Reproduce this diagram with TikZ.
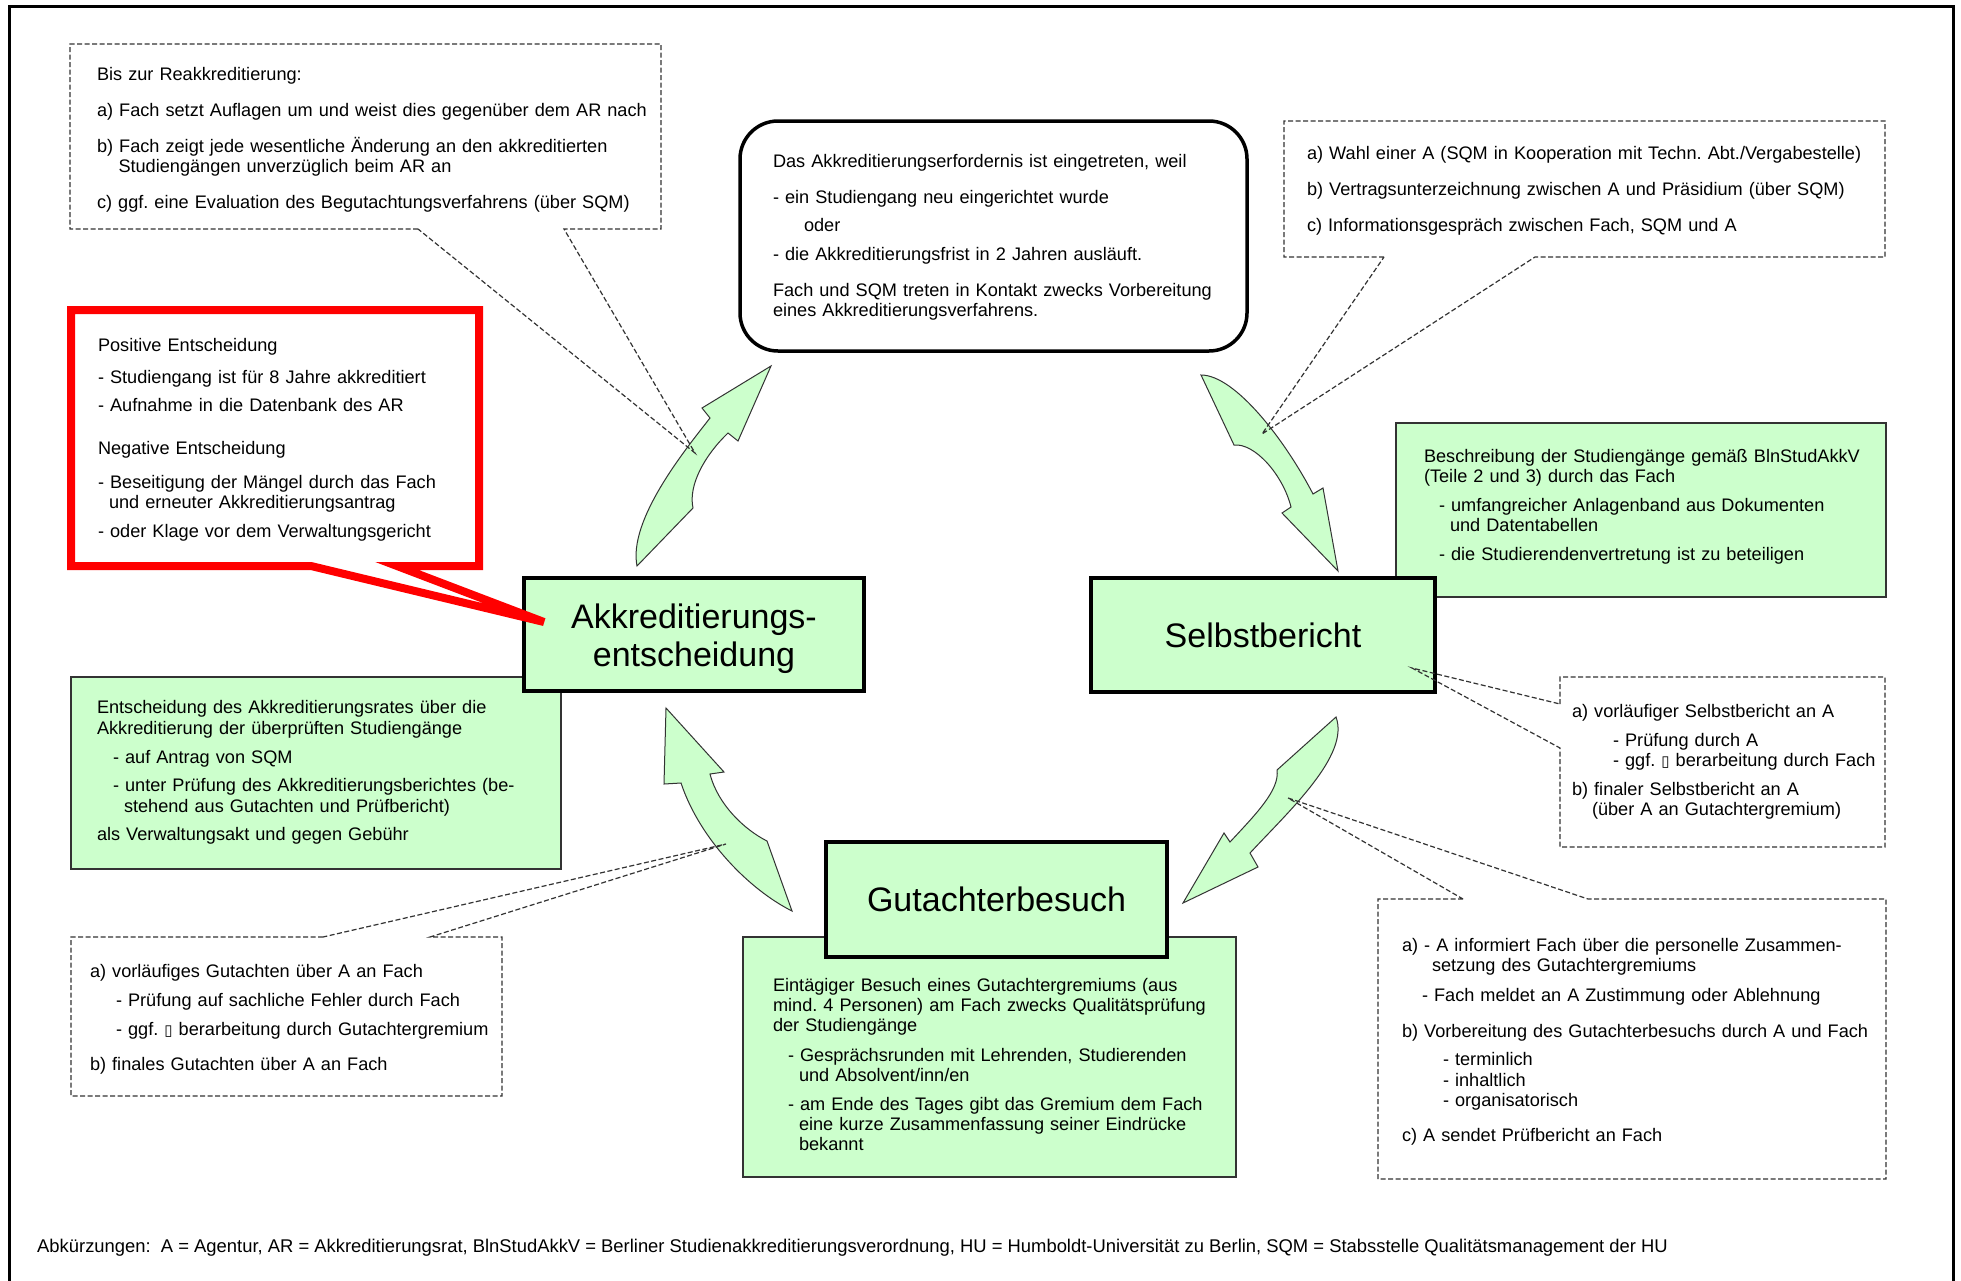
\documentclass[tikz,border=0pt]{standalone}
\usepackage{fontspec}
\setmainfont{Liberation Sans}
\newfontfamily\symfont{DejaVu Sans}
\newcommand{\tofu}{{\symfont\fontsize{15}{15}\selectfont ▯}}
\newcommand{\txtfont}{\fontsize{18.15}{20}\selectfont\frenchspacing\lineskiplimit -30pt\relax}
\newcommand{\footfont}{\fontsize{18.4}{20}\selectfont\frenchspacing}
\definecolor{lgreen}{HTML}{CCFFCC}
\definecolor{edge}{HTML}{333333}
\tikzset{
  txt/.style={anchor=base west, inner sep=0pt, outer sep=0pt, text width=#1, align=left,
    font=\txtfont},
  big/.style={anchor=base, inner sep=0pt, outer sep=0pt, align=center, text width=#1,
    font=\fontsize{34}{38}\selectfont},
  bigbox/.style={draw=black, line width=4.5pt, fill=lgreen, inner sep=0pt},
  greenbox/.style={draw=edge, line width=1.3pt, fill=lgreen, inner sep=0pt},
  callout/.style={draw=edge, line width=1.2pt, dash pattern=on 5pt off 2.5pt},
  blockarrow/.style={draw=edge, line width=1pt, fill=lgreen, line join=miter},
}
\begin{document}
\begin{tikzpicture}[x=1pt,y=-1pt]
\useasboundingbox (0,0) rectangle (1961,1280);
\fill[white] (0,0) rectangle (1961,1280);
\draw[line width=3pt] (9,1282) -- (9,6) -- (1953,6) -- (1953,1282);

% green description boxes
\node[greenbox, minimum width=490pt, minimum height=192pt] (gA) at (316,773) {};
\node[greenbox, minimum width=490pt, minimum height=174pt] (gB) at (1641,510) {};
\node[greenbox, minimum width=493pt, minimum height=240pt] (gC) at (989.5,1057) {};

% main step boxes
\node[bigbox, minimum width=340pt, minimum height=113pt] (akk) at (694,634.5) {};
\node[bigbox, minimum width=344pt, minimum height=114pt] (selbst) at (1263,635) {};
\node[bigbox, minimum width=341pt, minimum height=115pt] (gut) at (996.5,899.5) {};

% start box
\node[draw=black, line width=3.5pt, rounded corners=38pt, fill=white, minimum width=507pt,
      minimum height=230pt, inner sep=0pt] (start) at (993.5,236) {};

% curved block arrows
\draw[blockarrow] (771,366) -- (702,408) -- (710,418)
   .. controls (685,450) and (628,520) .. (637,566) -- (693,508)
   .. controls (688,485) and (705,455) .. (728,433) -- (738,441) -- cycle;
\draw[blockarrow] (1201,375) -- (1234,445)
   .. controls (1255,443) and (1283,475) .. (1291,507) -- (1282,513) -- (1338,571)
   -- (1323,488) -- (1313,494) .. controls (1285,440) and (1235,375) .. (1201,375) -- cycle;
\draw[blockarrow] (1336,717) -- (1277,770)
   .. controls (1280,790) and (1255,815) .. (1230,842) -- (1224,833) -- (1183,903)
   -- (1258,867) -- (1250,853) .. controls (1290,810) and (1350,755) .. (1336,717) -- cycle;
\draw[blockarrow] (666,708) -- (724,772) -- (710,774)
   .. controls (718,805) and (745,830) .. (767,841) -- (792,911)
   .. controls (750,890) and (700,840) .. (681,783) -- (664,784) -- cycle;

% dashed callouts
\draw[callout] (418,229) -- (70,229) -- (70,44) -- (661,44) -- (661,229) -- (564,229) -- (695,453) -- cycle;
\draw[callout] (1384,257) -- (1284,257) -- (1284,121) -- (1885,121) -- (1885,257) -- (1535,257) -- (1262,434) -- cycle;
\draw[callout] (1560,704) -- (1560,677) -- (1885,677) -- (1885,847) -- (1560,847) -- (1560,748) -- (1412,668) -- cycle;
\draw[callout] (1463,899) -- (1378,899) -- (1378,1179) -- (1886,1179) -- (1886,899) -- (1588,899) -- (1288,798) -- cycle;
\draw[callout] (323,937) -- (71,937) -- (71,1096) -- (502,1096) -- (502,937) -- (430,937) -- (726,844) -- cycle;

% red callout
\draw[red, line width=8pt] (311,566) -- (71,566) -- (71,310) -- (479,310) -- (479,566) -- (397,566) -- (544,622) -- cycle;

% texts
\node[txt=700pt] (t1) at (97,80) {Bis zur Reakkreditierung:\\[16pt]
a) Fach setzt Auflagen um und weist dies gegenüber dem AR nach\\[16pt]
b) Fach zeigt jede wesentliche Änderung an den akkreditierten\\
\hspace*{21.5pt}Studiengängen unverzüglich beim AR an\\[16pt]
c) ggf. eine Evaluation des Begutachtungsverfahrens (über SQM)};

\node[txt=600pt] (t2) at (773,167) {Das Akkreditierungserfordernis ist eingetreten, weil\\[16.5pt]
- ein Studiengang neu eingerichtet wurde\\[7.5pt]
\hspace*{31pt}oder\\[9pt]
- die Akkreditierungsfrist in 2 Jahren ausläuft.\\[16pt]
Fach und SQM treten in Kontakt zwecks Vorbereitung\\
eines Akkreditierungsverfahrens.};

\node[txt=700pt] (t3) at (1307,159) {a) Wahl einer A (SQM in Kooperation mit Techn. Abt./Vergabestelle)\\[16pt]
b) Vertragsunterzeichnung zwischen A und Präsidium (über SQM)\\[16pt]
c) Informationsgespräch zwischen Fach, SQM und A};

\node[txt=600pt] (t4) at (1424,462) {Beschreibung der Studiengänge gemäß BlnStudAkkV\\
(Teile 2 und 3) durch das Fach\\[9pt]
\hspace*{15pt}- umfangreicher Anlagenband aus Dokumenten\\
\hspace*{26pt}und Datentabellen\\[9pt]
\hspace*{15pt}- die Studierendenvertretung ist zu beteiligen};

\node[txt=500pt] (t5) at (98,351) {Positive Entscheidung\\[12.5pt]
- Studiengang ist für 8 Jahre akkreditiert\\[8pt]
- Aufnahme in die Datenbank des AR\\[23pt]
Negative Entscheidung\\[13.5pt]
- Beseitigung der Mängel durch das Fach\\
\hspace*{11pt}und erneuter Akkreditierungsantrag\\[9pt]
- oder Klage vor dem Verwaltungsgericht};

\node[txt=600pt] (t6) at (97,713) {Entscheidung des Akkreditierungsrates über die\\[1pt]
Akkreditierung der überprüften Studiengänge\\[9pt]
\hspace*{16pt}- auf Antrag von SQM\\[8.5pt]
\hspace*{16pt}- unter Prüfung des Akkreditierungsberichtes (be-\\[1pt]
\hspace*{27pt}stehend aus Gutachten und Prüfbericht)\\[8pt]
als Verwaltungsakt und gegen Gebühr};

\node[txt=600pt] (t7) at (773,991) {Eintägiger Besuch eines Gutachtergremiums (aus\\
mind. 4 Personen) am Fach zwecks Qualitätsprüfung\\
der Studiengänge\\[10pt]
\hspace*{15pt}- Gesprächsrunden mit Lehrenden, Studierenden\\
\hspace*{26pt}und Absolvent/inn/en\\[9pt]
\hspace*{15pt}- am Ende des Tages gibt das Gremium dem Fach\\
\hspace*{26pt}eine kurze Zusammenfassung seiner Eindrücke\\
\hspace*{26pt}bekannt};

\node[txt=550pt] (t8) at (90,977) {a) vorläufiges Gutachten über A an Fach\\[9pt]
\hspace*{26pt}- Prüfung auf sachliche Fehler durch Fach\\[9pt]
\hspace*{26pt}- ggf. \tofu{} berarbeitung durch Gutachtergremium\\[15pt]
b) finales Gutachten über A an Fach};

\node[txt=450pt] (t9) at (1572,717) {a) vorläufiger Selbstbericht an A\\[9pt]
\hspace*{41pt}- Prüfung durch A\\
\hspace*{41pt}- ggf. \tofu{} berarbeitung durch Fach\\[9pt]
b) finaler Selbstbericht an A\\
\hspace*{20pt}(über A an Gutachtergremium)};

\node[txt=600pt] (t10) at (1402,951) {a) - A informiert Fach über die personelle Zusammen-\\
\hspace*{30pt}setzung des Gutachtergremiums\\[10pt]
\hspace*{20pt}- Fach meldet an A Zustimmung oder Ablehnung\\[16pt]
b) Vorbereitung des Gutachterbesuchs durch A und Fach\\[8pt]
\hspace*{41pt}- terminlich\\[1pt]
\hspace*{41pt}- inhaltlich\\
\hspace*{41pt}- organisatorisch\\[15pt]
c) A sendet Prüfbericht an Fach};

\node[big=330pt] (akkT) at (694,628) {Akkreditierungs-\\entscheidung};
\node[big=330pt] (selbstT) at (1263,647) {Selbstbericht};
\node[big=330pt] (gutT) at (996.5,911) {Gutachterbesuch};

\node[anchor=base west, inner sep=0pt, font=\footfont] (foot) at (37,1252)
 {Abkürzungen:\ \ A = Agentur, AR = Akkreditierungsrat, BlnStudAkkV = Berliner Studienakkreditierungsverordnung, HU = Humboldt-Universität zu Berlin, SQM = Stabsstelle Qualitätsmanagement der HU};
\end{tikzpicture}
\end{document}
